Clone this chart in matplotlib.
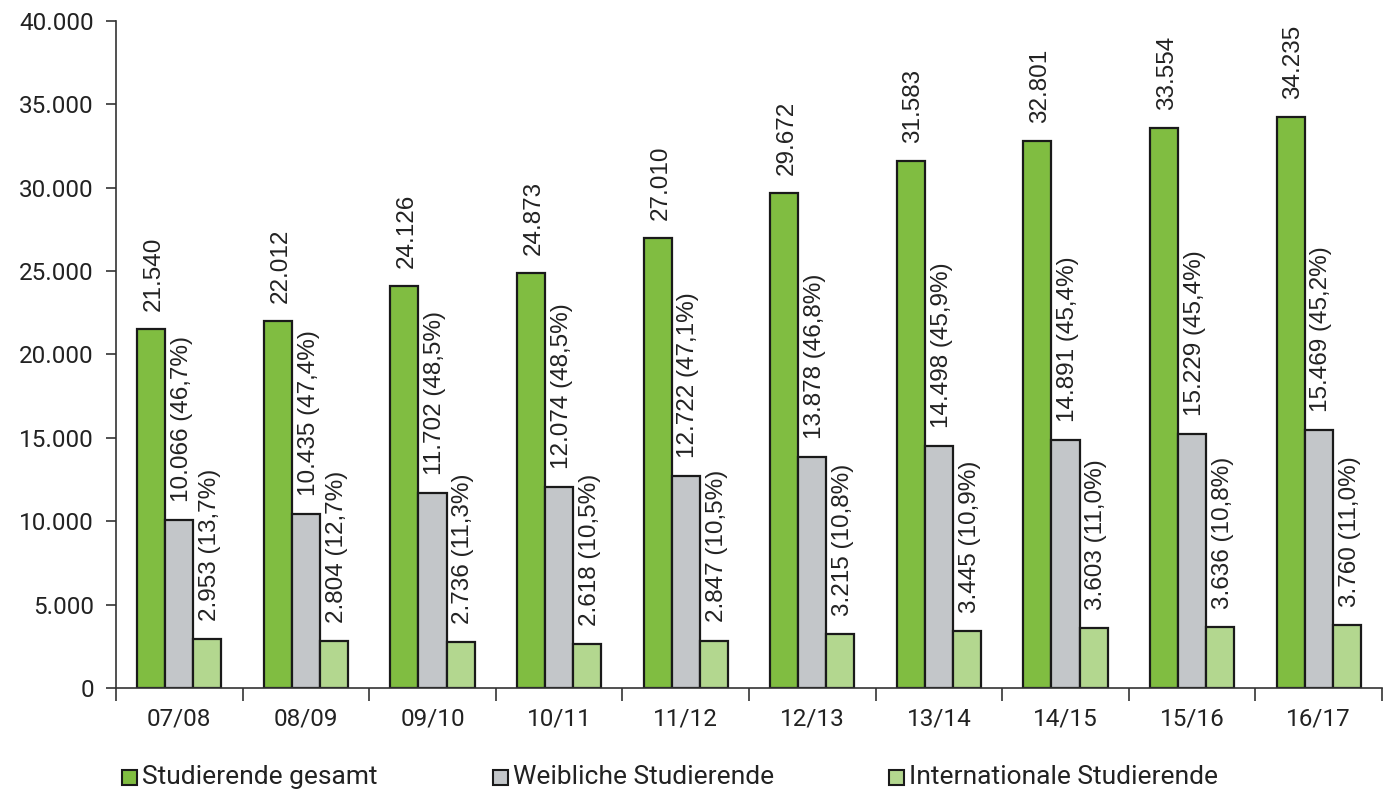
import numpy as np
import matplotlib.pyplot as plt
from matplotlib.patches import Rectangle
from matplotlib.ticker import FuncFormatter

semester = ["07/08", "08/09", "09/10", "10/11", "11/12",
            "12/13", "13/14", "14/15", "15/16", "16/17"]
gesamt = [21540, 22012, 24126, 24873, 27010, 29672, 31583, 32801, 33554, 34235]
weiblich = [10066, 10435, 11702, 12074, 12722, 13878, 14498, 14891, 15229, 15469]
weiblich_pct = ["46,7", "47,4", "48,5", "48,5", "47,1", "46,8", "45,9", "45,4", "45,4", "45,2"]
international = [2953, 2804, 2736, 2618, 2847, 3215, 3445, 3603, 3636, 3760]
international_pct = ["13,7", "12,7", "11,3", "10,5", "10,5", "10,8", "10,9", "11,0", "10,8", "11,0"]

c_gesamt = "#80bd41"
c_weiblich = "#c3c6c9"
c_intl = "#b3d78f"


def fmt(v):
    return "{:,}".format(v).replace(",", ".")


fig = plt.figure(figsize=(13.91, 7.92), dpi=100)
ax = fig.add_axes([0.0834, 0.1313, 0.9101, 0.8422])

x = np.arange(len(semester))
w = 0.222
series = [(gesamt, None, c_gesamt, -w),
          (weiblich, weiblich_pct, c_weiblich, 0),
          (international, international_pct, c_intl, w)]

for vals, pct, col, off in series:
    ax.bar(x + off, vals, w, color=col, edgecolor="#1a1a1a", linewidth=1.6, zorder=2)
    for i, v in enumerate(vals):
        txt = fmt(v) if pct is None else "{} ({}%)".format(fmt(v), pct[i])
        ax.annotate(txt, (x[i] + off, v), xytext=(2, 13), textcoords="offset points",
                    rotation=90, ha="center", va="bottom", fontsize=17.5,
                    family="Liberation Sans", color="#222222")

ax.set_xlim(-0.5, 9.5)
ax.set_ylim(0, 40000)
ax.set_yticks(np.arange(0, 40001, 5000))
ax.yaxis.set_major_formatter(FuncFormatter(lambda v, p: fmt(int(v))))
ax.set_xticks(x)
ax.set_xticklabels(semester)
ax.set_xticks(np.arange(-0.5, 10, 1), minor=True)
ax.tick_params(axis="x", which="major", length=0, pad=14)
ax.tick_params(axis="x", which="minor", length=9, width=1.2, color="#333333")
ax.tick_params(axis="y", length=7, width=1.2, color="#333333", pad=9)
for lab in ax.get_xticklabels() + ax.get_yticklabels():
    lab.set_family("Roboto")
    lab.set_fontsize(17.5)
    lab.set_color("#222222")
for s in ["top", "right"]:
    ax.spines[s].set_visible(False)
for s in ["left", "bottom"]:
    ax.spines[s].set_linewidth(1.2)
    ax.spines[s].set_color("#333333")

# legend drawn by hand to keep the uneven spacing
legend_items = [("Studierende gesamt", c_gesamt, 122),
                ("Weibliche Studierende", c_weiblich, 493),
                ("Internationale Studierende", c_intl, 889)]
fw, fh = 1391, 792
for name, col, px in legend_items:
    fig.patches.append(Rectangle((px / fw, 1 - 785 / fh), 15 / fw, 15 / fh,
                                 transform=fig.transFigure, facecolor=col,
                                 edgecolor="#1a1a1a", linewidth=1.5))
    fig.text((px + 20) / fw, 1 - 777 / fh, name, va="center", ha="left",
             fontsize=19, family="Roboto", color="#222222")

fig.savefig("out.png", dpi=100)
